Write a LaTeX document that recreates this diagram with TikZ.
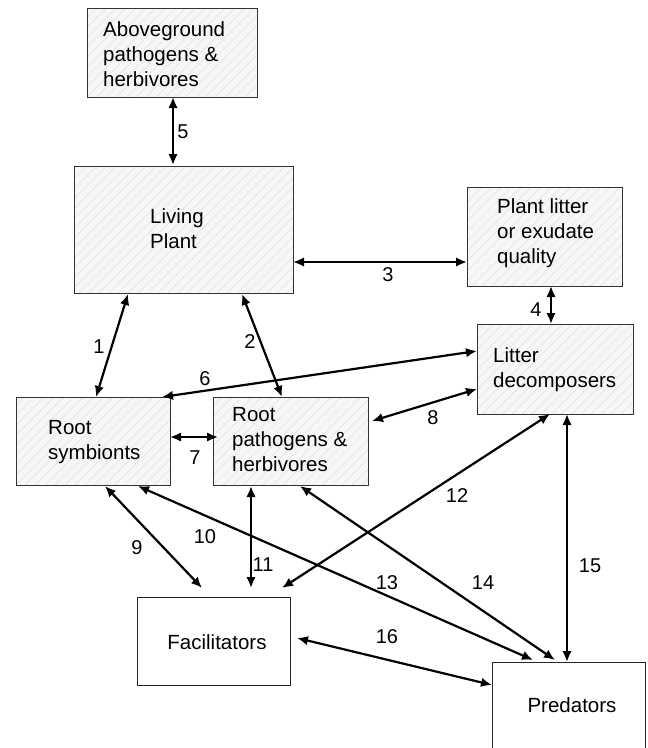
\documentclass[tikz,border=0pt]{standalone}
\usepackage{fontspec}
\setmainfont{Liberation Sans}
\usetikzlibrary{arrows.meta,patterns.meta,calc}
\begin{document}
\begin{tikzpicture}[x=1pt,y=-1pt,
  hbox/.style={rectangle, draw=black!80, line width=0.8pt, outer sep=0pt, inner sep=0pt,
    preaction={fill=black!3}, pattern={Lines[angle=45,distance=7pt,line width=0.7pt]}, pattern color=black!10},
  pbox/.style={rectangle, draw=black!85, line width=0.8pt, fill=white, outer sep=0pt, inner sep=0pt},
  txt/.style={font=\fontsize{20.5}{25}\selectfont, align=left, inner sep=0pt, anchor=base west},
  lab/.style={font=\fontsize{20}{24}\selectfont, inner sep=0pt},
  link/.style={line width=2.2pt, {Latex[length=11pt,width=9.5pt]}-{Latex[length=11pt,width=9.5pt]}},
]
\fill[white] (0,0) rectangle (648,748);
\useasboundingbox (0,0) rectangle (648,748);

% boxes
\node[hbox, minimum width=170pt, minimum height=89pt] (ab) at (172,52.5) {};
\node[hbox, minimum width=219pt, minimum height=127pt] (lp) at (183.5,229.5) {};
\node[hbox, minimum width=155pt, minimum height=99pt] (pl) at (544.5,236.5) {};
\node[hbox, minimum width=156pt, minimum height=90pt] (ld) at (555,369) {};
\node[hbox, minimum width=154pt, minimum height=88pt] (rs) at (93,441) {};
\node[hbox, minimum width=155pt, minimum height=88pt] (rp) at (290.5,441) {};
\node[pbox, minimum width=153pt, minimum height=88pt] (fa) at (213.5,641) {};
\node[pbox, minimum width=153pt, minimum height=88pt] (pr) at (568.5,706) {};

% texts (anchored at the baseline of the last line)
\node[txt] (abt) at (103,86) {Aboveground\\pathogens \&\\herbivores};
\node[txt] (lpt) at (150,248) {Living\\Plant};
\node[txt] (plt) at (497,263) {Plant litter\\or exudate\\quality};
\node[txt] (ldt) at (493,387) {Litter\\decomposers};
\node[txt] (rst) at (48,459) {Root\\symbionts};
\node[txt] (rpt) at (232,471) {Root\\pathogens \&\\herbivores};
\node[font=\fontsize{20.5}{25}\selectfont, inner sep=0pt] (fat) at (217,642) {Facilitators};
\node[font=\fontsize{20.5}{25}\selectfont, inner sep=0pt] (prt) at (572,705) {Predators};

% connectors
\draw[link] ($(ab.north west)+(86,89)$) -- ($(lp.north west)+(99,-1)$);
\draw[link] ($(lp.north west)+(219,96)$) -- ($(pl.north west)+(0,75)$);
\draw[link] ($(pl.north west)+(84,99)$) -- ($(ld.north west)+(74,0)$);
\draw[link] ($(lp.north west)+(54,128)$) -- ($(rs.north west)+(80,0)$);
\draw[link] ($(lp.north west)+(168,128)$) -- ($(rp.north west)+(69,0)$);
\draw[link] ($(ld.north west)+(0,27)$) -- ($(rs.north west)+(146,0)$);
\draw[link] ($(rs.north west)+(154,40)$) -- ($(rp.north west)+(5,40)$);
\draw[link] ($(rp.north west)+(159,24)$) -- ($(ld.north west)+(0,65)$);
\draw[link] ($(rs.north west)+(89,89)$) -- ($(fa.north west)+(65,-9)$);
\draw[link] ($(rs.north west)+(122,89)$) -- ($(pr.north west)+(41,-2)$);
\draw[link] ($(rp.north west)+(38,89)$) -- ($(fa.north west)+(114,-9)$);
\draw[link] ($(fa.north west)+(145,-9)$) -- ($(ld.north west)+(73,90)$);
\draw[link] ($(rp.north west)+(87,89)$) -- ($(pr.north west)+(63,-2)$);
\draw[link] ($(ld.north west)+(90,90)$) -- ($(pr.north west)+(75,0)$);
\draw[link] ($(fa.north west)+(160,41)$) -- ($(pr.north west)+(0,23)$);

% labels
\node[lab] (l1) at (99,347) {1};
\node[lab] (l2) at (250,342) {2};
\node[lab] (l3) at (388,275) {3};
\node[lab] (l4) at (536,310) {4};
\node[lab] (l5) at (183,132) {5};
\node[lab] (l6) at (205,379) {6};
\node[lab] (l7) at (195,458) {7};
\node[lab] (l8) at (433,418) {8};
\node[lab] (l9) at (137,548) {9};
\node[lab] (l10) at (205,537) {10};
\node[lab] (l11) at (263,565) {11};
\node[lab] (l12) at (457,496) {12};
\node[lab] (l13) at (387,583) {13};
\node[lab] (l14) at (483,583) {14};
\node[lab] (l15) at (590,566) {15};
\node[lab] (l16) at (387,637) {16};
\end{tikzpicture}
\end{document}
